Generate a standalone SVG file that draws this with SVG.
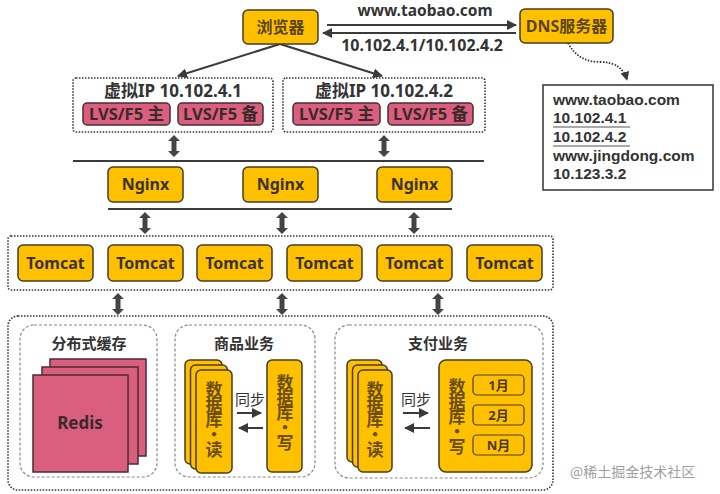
<svg xmlns="http://www.w3.org/2000/svg" width="720" height="494" viewBox="0 0 720 494">
<defs>
<style>
text{font-family:"Noto Sans","Noto Sans CJK SC",sans-serif;font-weight:bold;}
.gold{fill:#FFC000;stroke:#4a3d1f;stroke-width:1.5;}
.pink{fill:#DA5E7E;stroke:#4a2c33;stroke-width:1.5;}
.dot{fill:none;stroke:#333;stroke-width:1.6;stroke-dasharray:1.5 1.5;}
.dash{fill:none;stroke:#888;stroke-width:1.2;stroke-dasharray:3 2;}
.t{fill:#3b3322;font-size:16px;text-anchor:middle;}
.tb{fill:#5a4510;font-size:16px;text-anchor:middle;}
.v{font-family:"Noto Sans CJK SC",sans-serif;fill:#6a4d00;font-size:17px;writing-mode:vertical-rl;text-orientation:upright;letter-spacing:-2px;}
.lbl{fill:#333;font-size:15px;text-anchor:middle;}
.vip{fill:#333;font-size:17px;text-anchor:middle;}
.lvs{fill:#3a2a2a;font-size:16.5px;text-anchor:middle;}
.mon{fill:#4a3a10;font-size:13px;text-anchor:middle;}
.ln{stroke:#3a3a3a;stroke-width:2;fill:none;}
.list{font-family:"Liberation Sans",Arial,sans-serif;fill:#333;font-size:15.5px;}
</style>
<marker id="ah" viewBox="0 0 10 10" refX="9" refY="5" markerWidth="5" markerHeight="5" orient="auto">
<path d="M0,0 L10,5 L0,10 Z" fill="#3a3a3a"/>
</marker>
<path id="dbl" d="M0,-11 L6,-5 L2.5,-5 L2.5,5 L6,5 L0,11 L-6,5 L-2.5,5 L-2.5,-5 L-6,-5 Z" fill="#444"/>
</defs>
<rect width="720" height="494" fill="#fff"/>

<g id="connectors">
<line class="ln" x1="327" y1="25" x2="516" y2="25" marker-end="url(#ah)"/>
<line class="ln" x1="516" y1="33" x2="323" y2="33" marker-end="url(#ah)"/>
<line class="ln" x1="280" y1="44" x2="178" y2="76" marker-end="url(#ah)"/>
<line class="ln" x1="280" y1="44" x2="382" y2="76" marker-end="url(#ah)"/>
<path d="M568,43 Q578,62 600,62 Q622,62 627,80" fill="none" stroke="#333" stroke-width="1.8" stroke-dasharray="1.5 1.5" marker-end="url(#ah)"/>
<line class="ln" x1="73" y1="161" x2="484" y2="161"/>
<line class="ln" x1="108" y1="209" x2="452" y2="209"/>
<use href="#dbl" x="174" y="146"/>
<use href="#dbl" x="384" y="146"/>
<use href="#dbl" x="145" y="223"/>
<use href="#dbl" x="282" y="223"/>
<use href="#dbl" x="414" y="223"/>
<use href="#dbl" x="118" y="304"/>
<use href="#dbl" x="282" y="304"/>
<use href="#dbl" x="438" y="304"/>
<line x1="237" y1="413" x2="261" y2="413" stroke="#3a3a3a" stroke-width="2" marker-end="url(#ah)"/>
<line x1="263" y1="428" x2="239" y2="428" stroke="#3a3a3a" stroke-width="2" marker-end="url(#ah)"/>
<line x1="403" y1="413" x2="428" y2="413" stroke="#3a3a3a" stroke-width="2" marker-end="url(#ah)"/>
<line x1="430" y1="428" x2="405" y2="428" stroke="#3a3a3a" stroke-width="2" marker-end="url(#ah)"/>
</g>

<text class="lbl" x="425" y="16" style="font-size:15.5px">www.taobao.com</text>
<text class="lbl" x="422" y="51" style="font-size:16px">10.102.4.1/10.102.4.2</text>

<g id="browser">
<rect class="gold" x="243" y="10" width="75" height="34" rx="5"/>
<text class="tb" x="280.5" y="32.5">浏览器</text>
</g>
<g id="dns">
<rect class="gold" x="520" y="9" width="93" height="34" rx="5"/>
<text class="tb" x="566.5" y="31.5">DNS服务器</text>
</g>
<g id="dns-table">
<rect x="543" y="85" width="170" height="105" fill="#fff" stroke="#333" stroke-width="1.5"/>
<text class="list" x="553" y="105">www.taobao.com</text>
<text class="list" x="553" y="123">10.102.4.1</text>
<text class="list" x="553" y="142">10.102.4.2</text>
<text class="list" x="553" y="161">www.jingdong.com</text>
<text class="list" x="553" y="179">10.123.3.2</text>
<line x1="553" y1="127" x2="630" y2="127" stroke="#555" stroke-width="1.2"/>
<line x1="553" y1="146" x2="630" y2="146" stroke="#555" stroke-width="1.2"/>
</g>

<g id="vip1">
<rect class="dot" x="73" y="78" width="200" height="54" rx="3"/>
<text class="vip" x="173" y="97">虚拟IP 10.102.4.1</text>
<rect class="pink" x="83" y="103" width="87" height="22" rx="4"/>
<text class="lvs" x="126.5" y="120">LVS/F5 主</text>
<rect class="pink" x="178" y="103" width="85" height="22" rx="4"/>
<text class="lvs" x="220.5" y="120">LVS/F5 备</text>
</g>
<g id="vip2">
<rect class="dot" x="283" y="78" width="202" height="54" rx="3"/>
<text class="vip" x="384" y="97">虚拟IP 10.102.4.2</text>
<rect class="pink" x="293" y="103" width="87" height="22" rx="4"/>
<text class="lvs" x="336.5" y="120">LVS/F5 主</text>
<rect class="pink" x="388" y="103" width="85" height="22" rx="4"/>
<text class="lvs" x="430.5" y="120">LVS/F5 备</text>
</g>

<g id="nginx1"><rect class="gold" x="108" y="167" width="75" height="35" rx="5"/><text class="t" x="145.5" y="190">Nginx</text></g>
<g id="nginx2"><rect class="gold" x="243" y="167" width="75" height="35" rx="5"/><text class="t" x="280.5" y="190">Nginx</text></g>
<g id="nginx3"><rect class="gold" x="377" y="167" width="75" height="35" rx="5"/><text class="t" x="414.5" y="190">Nginx</text></g>

<g id="tomcat-group"><rect class="dot" x="8" y="236" width="545" height="54" rx="3"/></g>
<g id="tomcat1"><rect class="gold" x="18" y="245" width="75" height="36" rx="5"/><text class="t" x="55.5" y="268.5">Tomcat</text></g>
<g id="tomcat2"><rect class="gold" x="108" y="245" width="75" height="36" rx="5"/><text class="t" x="145.5" y="268.5">Tomcat</text></g>
<g id="tomcat3"><rect class="gold" x="197" y="245" width="75" height="36" rx="5"/><text class="t" x="234.5" y="268.5">Tomcat</text></g>
<g id="tomcat4"><rect class="gold" x="287" y="245" width="75" height="36" rx="5"/><text class="t" x="324.5" y="268.5">Tomcat</text></g>
<g id="tomcat5"><rect class="gold" x="377" y="245" width="75" height="36" rx="5"/><text class="t" x="414.5" y="268.5">Tomcat</text></g>
<g id="tomcat6"><rect class="gold" x="467" y="245" width="75" height="36" rx="5"/><text class="t" x="504.5" y="268.5">Tomcat</text></g>

<g id="backend"><rect class="dot" x="8" y="316" width="545" height="174" rx="10"/></g>

<g id="cache">
<rect class="dash" x="20" y="325" width="137" height="152" rx="14"/>
<text class="lbl" x="89" y="349">分布式缓存</text>
<rect class="pink" x="50" y="359" width="96" height="97"/>
<rect class="pink" x="42" y="367" width="96" height="97"/>
<rect class="pink" x="33" y="375" width="95" height="97"/>
<text class="lvs" x="80" y="429" style="font-size:17px">Redis</text>
</g>

<g id="goods">
<rect class="dash" x="175" y="325" width="140" height="152" rx="14"/>
<text class="lbl" x="244" y="349">商品业务</text>
<rect class="gold" x="185" y="360" width="37" height="104" rx="5"/>
<rect class="gold" x="190.5" y="365" width="37" height="104" rx="5"/>
<rect class="gold" x="196" y="370" width="36" height="103" rx="5"/>
<text class="v" x="214" y="381">数据库·读</text>
<text class="lbl" x="250" y="405" style="font-weight:normal">同步</text>
<rect class="gold" x="267" y="360" width="35" height="112" rx="5"/>
<text class="v" x="285" y="374">数据库·写</text>
</g>

<g id="pay">
<rect class="dash" x="335" y="325" width="208" height="153" rx="14"/>
<text class="lbl" x="438" y="349">支付业务</text>
<rect class="gold" x="347" y="360" width="35" height="102" rx="5"/>
<rect class="gold" x="352.5" y="365" width="35" height="102" rx="5"/>
<rect class="gold" x="358" y="370" width="34" height="102" rx="5"/>
<text class="v" x="375" y="381">数据库·读</text>
<text class="lbl" x="416" y="405" style="font-weight:normal">同步</text>
<rect class="gold" x="439" y="360" width="93" height="112" rx="7"/>
<text class="v" x="457" y="378">数据库·写</text>
<rect class="gold" x="473" y="375" width="51" height="20" rx="4" style="stroke-width:1.2"/>
<text class="mon" x="498.5" y="390">1月</text>
<rect class="gold" x="473" y="405" width="51" height="20" rx="4" style="stroke-width:1.2"/>
<text class="mon" x="498.5" y="420">2月</text>
<rect class="gold" x="473" y="435" width="51" height="20" rx="4" style="stroke-width:1.2"/>
<text class="mon" x="498.5" y="450">N月</text>
</g>

<text x="570" y="477" style="font-family:'Noto Sans CJK SC',sans-serif;font-weight:normal;font-size:14px;fill:#a0a0a0">@稀土掘金技术社区</text>
</svg>
